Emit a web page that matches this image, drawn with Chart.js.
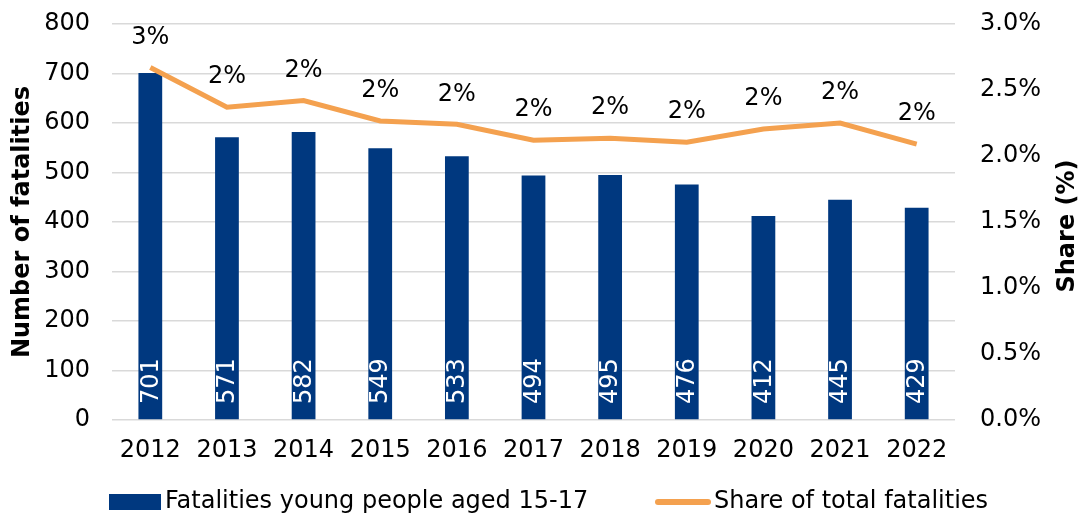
<!DOCTYPE html>
<html>
<head>
<meta charset="utf-8">
<script src="https://cdn.jsdelivr.net/npm/chart.js@4/dist/chart.umd.min.js"></script>
<style>
  html, body { margin: 0; padding: 0; background: #fff; }
  #wrap { width: 1083px; height: 518px; }
</style>
</head>
<body>
<div id="wrap"><canvas id="c" width="1083" height="518"></canvas></div>
<script>
const categories = ['2012','2013','2014','2015','2016','2017','2018','2019','2020','2021','2022'];
const fatalities = [701, 571, 582, 549, 533, 494, 495, 476, 412, 445, 429];
const sharePct = [2.67, 2.37, 2.42, 2.265, 2.24, 2.12, 2.135, 2.105, 2.205, 2.25, 2.09];
const leftTicks = [0, 100, 200, 300, 400, 500, 600, 700, 800];
const rightTicks = [0, 0.5, 1.0, 1.5, 2.0, 2.5, 3.0];
const barLabel = 'Fatalities young people aged 15-17';
const lineLabel = 'Share of total fatalities';
const leftTitle = 'Number of fatalities';
const rightTitle = 'Share (%)';

const FONT = '"DejaVu Sans", Verdana, sans-serif';
const FS = 24;
const BAR_COLOR = '#00387f';
const LINE_COLOR = '#f4a14f';

const overlay = {
  id: 'overlay',
  afterDatasetsDraw(chart) {
    const ctx = chart.ctx;
    const y = chart.scales.y;
    ctx.save();
    ctx.font = FS + 'px ' + FONT;
    ctx.fillStyle = '#ffffff';
    ctx.textAlign = 'left';
    ctx.textBaseline = 'middle';
    const barMeta = chart.getDatasetMeta(1);
    barMeta.data.forEach((el, i) => {
      ctx.save();
      ctx.translate(el.x + 1, y.getPixelForValue(0) - 16);
      ctx.rotate(-Math.PI / 2);
      ctx.fillText(String(fatalities[i]), 0, 0);
      ctx.restore();
    });
    ctx.fillStyle = '#000000';
    ctx.textAlign = 'center';
    ctx.textBaseline = 'middle';
    const lineMeta = chart.getDatasetMeta(0);
    lineMeta.data.forEach((el, i) => {
      ctx.fillText(Math.round(sharePct[i]) + '%', el.x, el.y - 30);
    });
    ctx.restore();
  },
  afterDraw(chart) {
    const ctx = chart.ctx;
    const area = chart.chartArea;
    ctx.save();
    ctx.font = 'bold ' + FS + 'px ' + FONT;
    ctx.fillStyle = '#000000';
    ctx.textAlign = 'center';
    ctx.textBaseline = 'middle';
    const midY = (area.top + area.bottom) / 2;
    ctx.save();
    ctx.translate(23, midY);
    ctx.rotate(-Math.PI / 2);
    ctx.fillText(leftTitle, 0, 0);
    ctx.restore();
    ctx.save();
    ctx.translate(1068, midY + 4);
    ctx.rotate(-Math.PI / 2);
    ctx.fillText(rightTitle, 0, 0);
    ctx.restore();
    const ly = 502;
    ctx.fillStyle = BAR_COLOR;
    ctx.fillRect(109, ly - 8, 52, 16);
    ctx.strokeStyle = LINE_COLOR;
    ctx.lineWidth = 6;
    ctx.lineCap = 'round';
    ctx.beginPath();
    ctx.moveTo(658, ly);
    ctx.lineTo(708, ly);
    ctx.stroke();
    ctx.font = FS + 'px ' + FONT;
    ctx.fillStyle = '#000000';
    ctx.textAlign = 'left';
    ctx.textBaseline = 'middle';
    ctx.fillText(barLabel, 165, ly);
    ctx.fillText(lineLabel, 714, ly);
    ctx.restore();
  }
};

function fixV(width) {
  return s => { s.width = width; s.paddingTop = 0; s.paddingBottom = 0; };
}

new Chart(document.getElementById('c'), {
  data: {
    labels: categories,
    datasets: [
      {
        type: 'line',
        label: lineLabel,
        data: sharePct,
        yAxisID: 'y1',
        borderColor: LINE_COLOR,
        backgroundColor: LINE_COLOR,
        borderWidth: 5,
        pointRadius: 0,
        tension: 0,
        order: 0
      },
      {
        type: 'bar',
        label: barLabel,
        data: fatalities,
        yAxisID: 'y',
        backgroundColor: BAR_COLOR,
        barPercentage: 0.31,
        categoryPercentage: 1.0,
        order: 1
      }
    ]
  },
  options: {
    responsive: false,
    animation: false,
    devicePixelRatio: 1,
    layout: { padding: { top: 24, left: 0, right: 0, bottom: 0 } },
    plugins: { legend: { display: false }, tooltip: { enabled: false } },
    scales: {
      x: {
        grid: { display: false, drawTicks: false },
        border: { display: false },
        ticks: { font: { family: FONT, size: FS }, color: '#000', padding: 16 },
        afterFit: s => { s.height = 98; s.paddingLeft = 0; s.paddingRight = 0; }
      },
      y: {
        position: 'left',
        min: 0, max: 800,
        afterBuildTicks: s => { s.ticks = leftTicks.map(v => ({ value: v })); },
        grid: { color: '#d9d9d9', lineWidth: 1.5, drawTicks: false },
        border: { display: false },
        ticks: { font: { family: FONT, size: FS }, color: '#000', padding: 22 },
        afterFit: fixV(112)
      },
      y1: {
        position: 'right',
        min: 0, max: 3.0,
        afterBuildTicks: s => { s.ticks = rightTicks.map(v => ({ value: v })); },
        grid: { display: false, drawTicks: false },
        border: { display: false },
        ticks: {
          font: { family: FONT, size: FS }, color: '#000', padding: 25,
          callback: v => Number(v).toFixed(1) + '%'
        },
        afterFit: fixV(128)
      }
    }
  },
  plugins: [overlay]
});
</script>
</body>
</html>
